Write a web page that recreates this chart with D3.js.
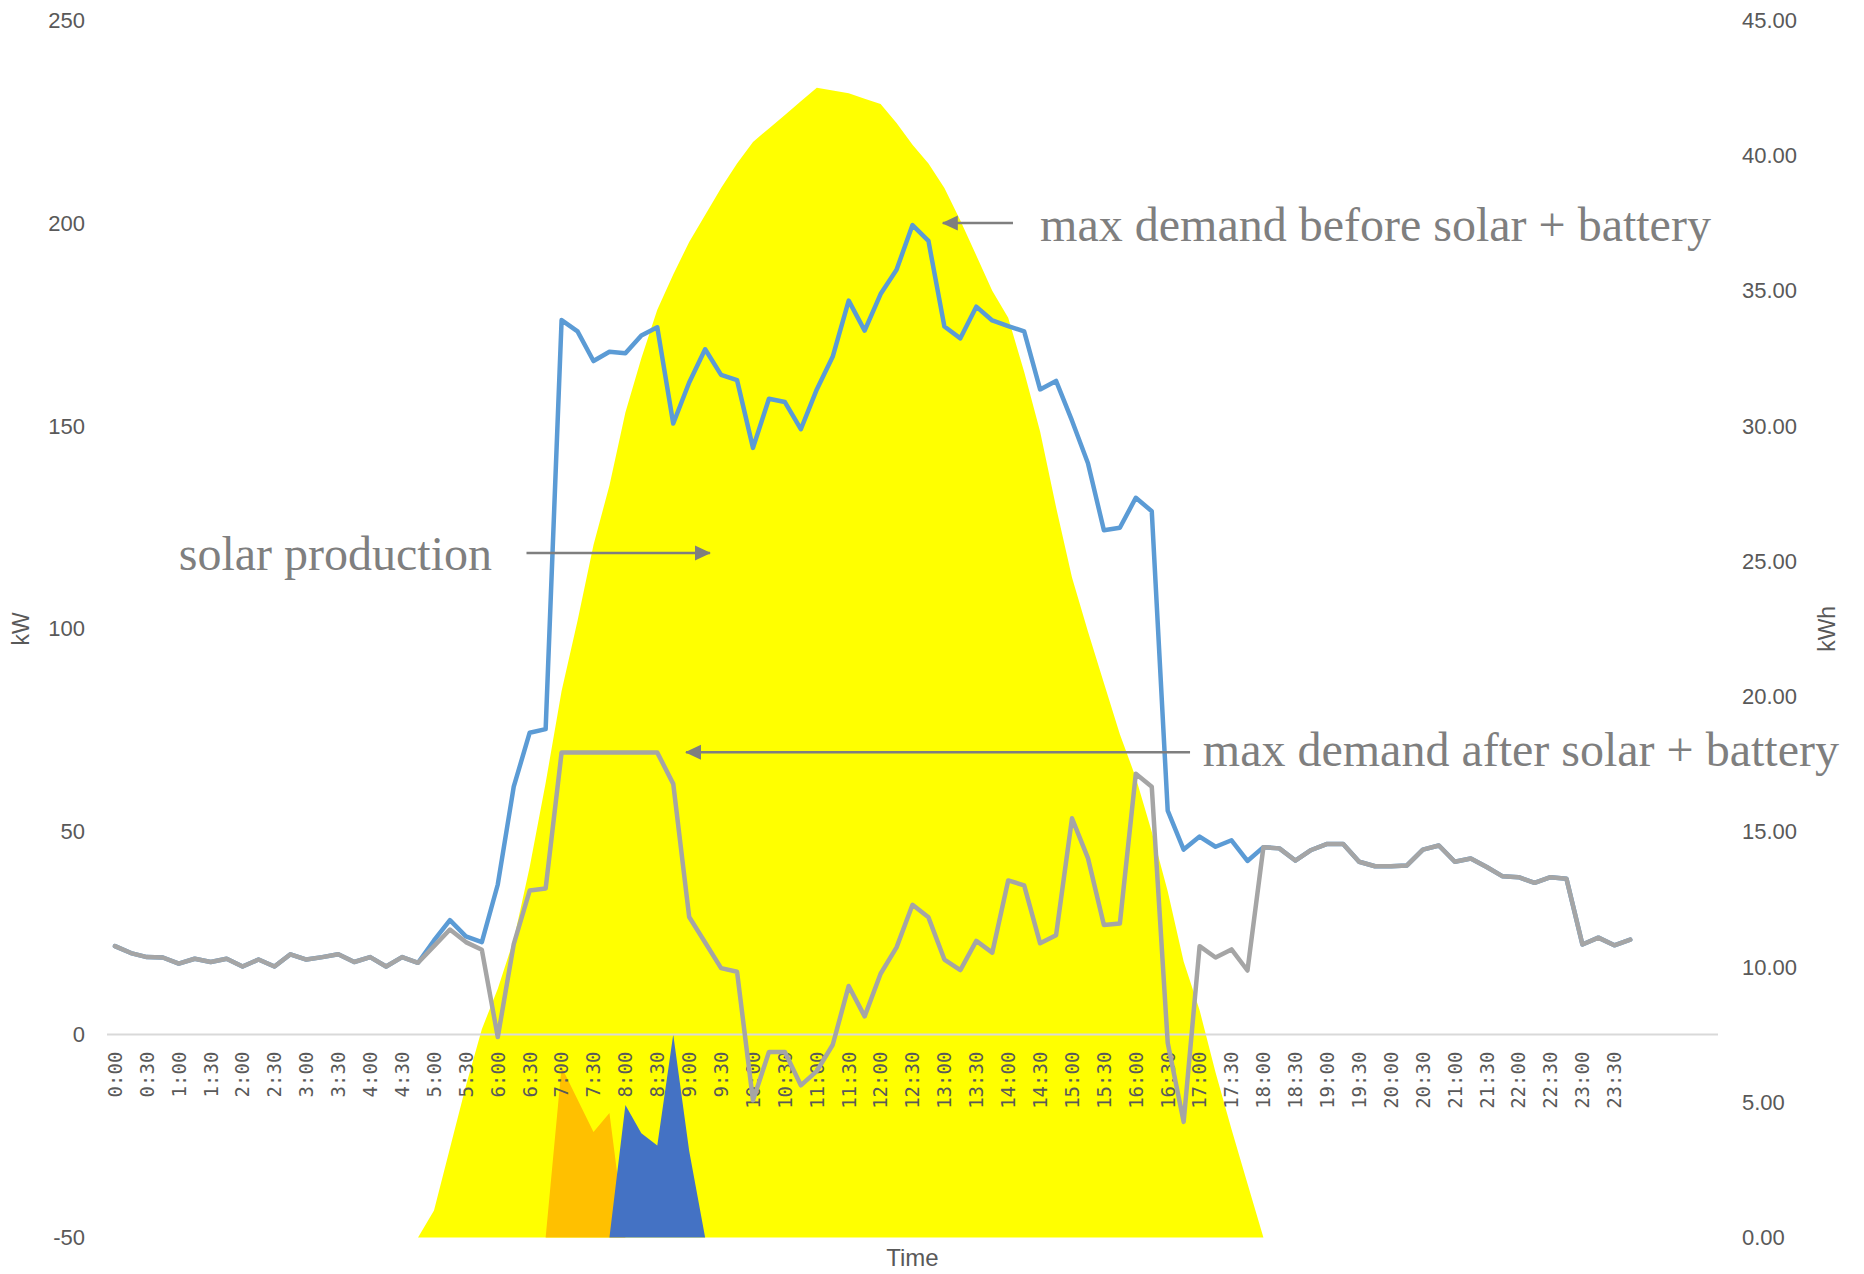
<!DOCTYPE html>
<html>
<head>
<meta charset="utf-8">
<script src="https://cdn.jsdelivr.net/npm/d3@7"></script>
<style>
  body { margin: 0; background: #ffffff; }
  svg { display: block; }
</style>
</head>
<body>
<svg id="chart" width="1864" height="1274"></svg>
<script>
// 15-minute time slots of the day; the category axis carries five trailing blank slots.
const timeSlots = [
  "0:00","0:15","0:30","0:45","1:00","1:15","1:30","1:45","2:00","2:15","2:30","2:45",
  "3:00","3:15","3:30","3:45","4:00","4:15","4:30","4:45","5:00","5:15","5:30","5:45",
  "6:00","6:15","6:30","6:45","7:00","7:15","7:30","7:45","8:00","8:15","8:30","8:45",
  "9:00","9:15","9:30","9:45","10:00","10:15","10:30","10:45","11:00","11:15","11:30","11:45",
  "12:00","12:15","12:30","12:45","13:00","13:15","13:30","13:45","14:00","14:15","14:30","14:45",
  "15:00","15:15","15:30","15:45","16:00","16:15","16:30","16:45","17:00","17:15","17:30","17:45",
  "18:00","18:15","18:30","18:45","19:00","19:15","19:30","19:45","20:00","20:15","20:30","20:45",
  "21:00","21:15","21:30","21:45","22:00","22:15","22:30","22:45","23:00","23:15","23:30","23:45",
  "", "", "", "", ""
];

// Site demand (kW) without solar and battery
const demandBefore = [
  21.8,20.1,19.1,19.0,17.5,18.7,17.9,18.7,16.8,18.5,
  16.8,19.8,18.5,19.1,19.8,17.9,19.1,16.8,19.1,17.7,
  23.2,28.2,24.2,22.8,37.0,61.1,74.4,75.3,176.1,173.3,
  166.0,168.3,167.9,172.3,174.3,150.6,160.7,168.9,162.6,161.3,
  144.6,156.7,155.9,149.2,159.0,167.1,180.9,173.5,182.5,188.5,
  199.5,195.6,174.5,171.6,179.4,176.0,174.6,173.3,159.0,161.1,
  151.3,140.8,124.3,124.9,132.3,129.0,55.2,45.6,48.8,46.3,
  47.9,42.8,46.2,45.9,42.9,45.5,47.0,47.0,42.6,41.5,
  41.5,41.7,45.6,46.6,42.6,43.4,41.3,39.0,38.8,37.4,
  38.8,38.4,22.2,23.9,22.0,23.4
];

// Net demand (kW) with solar and battery
const demandAfter = [
  21.8,20.1,19.1,19.0,17.5,18.7,17.9,18.7,16.8,18.5,
  16.8,19.8,18.5,19.1,19.8,17.9,19.1,16.8,19.1,17.7,
  21.8,25.9,22.8,20.9,-0.6,22.3,35.5,36.0,69.5,69.5,
  69.5,69.5,69.5,69.5,69.5,61.8,29.0,22.7,16.4,15.5,
  -16.2,-4.3,-4.3,-12.5,-9.0,-2.5,12.0,4.5,15.0,21.5,
  32.0,28.9,18.5,15.9,23.1,20.2,38.0,36.8,22.5,24.5,
  53.3,43.5,27.0,27.4,64.3,61.1,-2.0,-21.5,21.8,19.0,
  21.0,15.8,46.2,45.9,42.9,45.5,47.0,47.0,42.6,41.5,
  41.5,41.7,45.6,46.6,42.6,43.4,41.3,39.0,38.8,37.4,
  38.8,38.4,22.2,23.9,22.0,23.4
];

// Solar production per interval (kWh)
const solarKWh = [
  0,0,0,0,0,0,0,0,0,0,
  0,0,0,0,0,0,0,0,0,0,
  1.0,3.3,5.6,7.7,9.2,11.0,13.7,16.8,20.2,22.8,
  25.6,27.8,30.5,32.5,34.3,35.6,36.8,37.8,38.8,39.7,
  40.5,41.0,41.5,42.0,42.5,42.4,42.3,42.1,41.9,41.2,
  40.4,39.7,38.8,37.6,36.3,35.0,34.0,32.0,29.8,27.0,
  24.4,22.4,20.5,18.6,17.0,15.0,12.8,10.2,8.4,6.1,
  4.0,2.0,0,0,0,0,0,0,0,0,
  0,0,0,0,0,0,0,0,0,0,
  0,0,0,0,0,0
];

// Battery energy, first block (kWh)
const batteryFirstKWh = [
  0,0,0,0,0,0,0,0,0,0,
  0,0,0,0,0,0,0,0,0,0,
  0,0,0,0,0,0,0,0,6.3,5.1,
  3.9,4.6,0,0,0,0,0,0,0,0,
  0,0,0,0,0,0,0,0,0,0,
  0,0,0,0,0,0,0,0,0,0,
  0,0,0,0,0,0,0,0,0,0,
  0,0,0,0,0,0,0,0,0,0,
  0,0,0,0,0,0,0,0,0,0,
  0,0,0,0,0,0
];

// Battery energy, second block (kWh)
const batterySecondKWh = [
  0,0,0,0,0,0,0,0,0,0,
  0,0,0,0,0,0,0,0,0,0,
  0,0,0,0,0,0,0,0,0,0,
  0,0,4.9,3.85,3.4,7.5,3.2,0,0,0,
  0,0,0,0,0,0,0,0,0,0,
  0,0,0,0,0,0,0,0,0,0,
  0,0,0,0,0,0,0,0,0,0,
  0,0,0,0,0,0,0,0,0,0,
  0,0,0,0,0,0,0,0,0,0,
  0,0,0,0,0,0
];

const kwTicks = [-50, 0, 50, 100, 150, 200, 250];
const kwhTicks = [0, 5, 10, 15, 20, 25, 30, 35, 40, 45];

// Callouts: text with an arrow, placed in data units (slot index, kW)
const callouts = [
  { text: "max demand before solar + battery", textSlot: 58.0, textKW: 195.6, from: 56.3, to: 51.9, arrowKW: 200 },
  { text: "solar production", textSlot: 4.0, textKW: 114.6, from: 25.8, to: 37.3, arrowKW: 118.7 },
  { text: "max demand after solar + battery", textSlot: 68.2, textKW: 66.2, from: 67.4, to: 35.8, arrowKW: 69.6 }
];

const svg = d3.select("#chart");
const labelGrey = "#595959";
const calloutGrey = "#7f7f7f";

const x = d3.scaleBand()
  .domain(d3.range(timeSlots.length))
  .range([107, 1718])
  .paddingInner(0)
  .paddingOuter(0);
const cx = i => x(i) + x.bandwidth() / 2;

const yKW = d3.scaleLinear().domain([-50, 250]).range([1237.5, 20.2]);
const yKWh = d3.scaleLinear().domain([0, 45]).range([1237.5, 20.2]);

// Energy areas on the kWh axis
const energyArea = d3.area()
  .x((d, i) => cx(i))
  .y0(yKWh(0))
  .y1(d => yKWh(d));

svg.append("path").datum(solarKWh).attr("d", energyArea).attr("fill", "#ffff00");
svg.append("path").datum(batteryFirstKWh).attr("d", energyArea).attr("fill", "#ffc000");
svg.append("path").datum(batterySecondKWh).attr("d", energyArea).attr("fill", "#4472c4");

// Zero line of the kW axis
svg.append("line")
  .attr("x1", x.range()[0]).attr("x2", x.range()[1])
  .attr("y1", yKW(0)).attr("y2", yKW(0))
  .attr("stroke", "#d9d9d9").attr("stroke-width", 2);

// Left axis (kW)
const leftAxis = svg.append("g")
  .attr("transform", "translate(85,0)")
  .call(d3.axisLeft(yKW).tickValues(kwTicks).tickFormat(d => String(d)).tickSize(0).tickPadding(0));
leftAxis.select(".domain").remove();
leftAxis.selectAll("text")
  .attr("fill", labelGrey)
  .style("font-family", "'Liberation Sans', Arial, sans-serif")
  .style("font-size", "22px");

// Right axis (kWh)
const rightAxis = svg.append("g")
  .attr("transform", "translate(1742,0)")
  .call(d3.axisRight(yKWh).tickValues(kwhTicks).tickFormat(d => d.toFixed(2)).tickSize(0).tickPadding(0));
rightAxis.select(".domain").remove();
rightAxis.selectAll("text")
  .attr("fill", labelGrey)
  .style("font-family", "'Liberation Sans', Arial, sans-serif")
  .style("font-size", "22px");

// Time labels every half hour, rotated
const halfHourSlots = timeSlots
  .map((t, i) => ({ t, i }))
  .filter(d => d.t !== "" && (d.t.endsWith(":00") || d.t.endsWith(":30")));
svg.append("g").selectAll("text")
  .data(halfHourSlots)
  .join("text")
  .attr("transform", d => `translate(${cx(d.i)},${yKW(0) + 17}) rotate(-90)`)
  .attr("text-anchor", "end")
  .attr("dy", "0.36em")
  .attr("fill", labelGrey)
  .style("font-family", "'DejaVu Sans Mono', monospace")
  .style("font-size", "19px")
  .text(d => d.t);

// Axis titles
svg.append("text")
  .attr("transform", `translate(29,${yKW(100)}) rotate(-90)`)
  .attr("text-anchor", "middle")
  .attr("fill", labelGrey)
  .style("font-family", "'Liberation Sans', Arial, sans-serif")
  .style("font-size", "23px")
  .text("kW");
svg.append("text")
  .attr("transform", `translate(1835,${yKWh(22.5)}) rotate(-90)`)
  .attr("text-anchor", "middle")
  .attr("fill", labelGrey)
  .style("font-family", "'Liberation Sans', Arial, sans-serif")
  .style("font-size", "23px")
  .text("kWh");
svg.append("text")
  .attr("x", (x.range()[0] + x.range()[1]) / 2)
  .attr("y", 1266)
  .attr("text-anchor", "middle")
  .attr("fill", labelGrey)
  .style("font-family", "'Liberation Sans', Arial, sans-serif")
  .style("font-size", "24px")
  .text("Time");

// Demand lines
const demandLine = d3.line()
  .x((d, i) => cx(i))
  .y(d => yKW(d));

svg.append("path").datum(demandBefore)
  .attr("d", demandLine)
  .attr("fill", "none")
  .attr("stroke", "#5b9bd5")
  .attr("stroke-width", 4.5)
  .attr("stroke-linejoin", "round")
  .attr("stroke-linecap", "round");
svg.append("path").datum(demandAfter)
  .attr("d", demandLine)
  .attr("fill", "none")
  .attr("stroke", "#a5a5a5")
  .attr("stroke-width", 4.5)
  .attr("stroke-linejoin", "round")
  .attr("stroke-linecap", "round");

// Callout arrows and text
svg.append("defs").append("marker")
  .attr("id", "arrowHead")
  .attr("viewBox", "0 0 16 16")
  .attr("refX", 15).attr("refY", 8)
  .attr("markerWidth", 16).attr("markerHeight", 16)
  .attr("markerUnits", "userSpaceOnUse")
  .attr("orient", "auto")
  .append("path")
  .attr("d", "M0,0.5 L16,8 L0,15.5 Z")
  .attr("fill", calloutGrey);

const callG = svg.append("g");
callG.selectAll("line")
  .data(callouts)
  .join("line")
  .attr("x1", d => cx(0) + d.from * x.bandwidth())
  .attr("x2", d => cx(0) + d.to * x.bandwidth())
  .attr("y1", d => yKW(d.arrowKW))
  .attr("y2", d => yKW(d.arrowKW))
  .attr("stroke", calloutGrey)
  .attr("stroke-width", 2.5)
  .attr("marker-end", "url(#arrowHead)");
callG.selectAll("text")
  .data(callouts)
  .join("text")
  .attr("x", d => cx(0) + d.textSlot * x.bandwidth())
  .attr("y", d => yKW(d.textKW))
  .attr("fill", calloutGrey)
  .style("font-family", "'Liberation Serif', 'Times New Roman', serif")
  .style("font-size", "48px")
  .text(d => d.text);
</script>
</body>
</html>
